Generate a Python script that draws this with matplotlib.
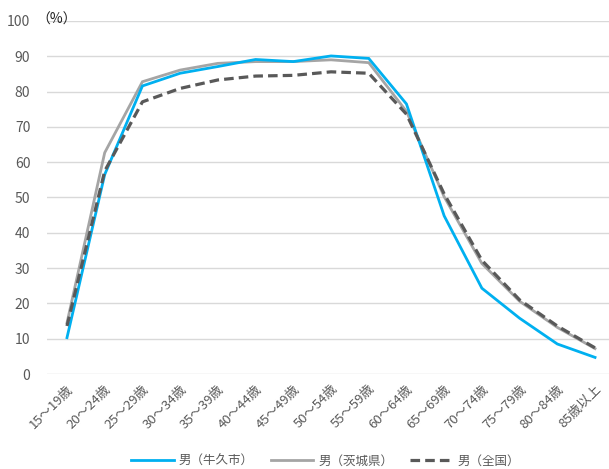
import matplotlib
matplotlib.use("Agg")
import matplotlib.pyplot as plt

plt.rcParams['font.family'] = ['Noto Sans CJK JP', 'DejaVu Sans']

age_groups = ["15～19歳", "20～24歳", "25～29歳", "30～34歳", "35～39歳",
              "40～44歳", "45～49歳", "50～54歳", "55～59歳", "60～64歳",
              "65～69歳", "70～74歳", "75～79歳", "80～84歳", "85歳以上"]

ushiku = [10.3, 56.5, 81.6, 85.2, 87.1, 89.1, 88.5, 90.1, 89.4, 76.5,
          44.8, 24.3, 15.8, 8.5, 4.7]
ibaraki = [14.5, 62.7, 82.8, 86.1, 88.0, 88.5, 88.5, 89.0, 88.2, 74.4,
           50.2, 31.3, 20.6, 13.2, 7.2]
national = [13.6, 57.5, 77.1, 80.9, 83.3, 84.4, 84.6, 85.6, 85.2, 73.6,
            51.0, 32.2, 21.0, 13.6, 7.4]

series_labels = ["男（牛久市）", "男（茨城県）", "男（全国）"]
y_ticks = list(range(0, 101, 10))

fig = plt.figure(figsize=(6.09, 4.69), dpi=100)
ax = fig.add_axes([47 / 609, 1 - 374 / 469, 562 / 609, 353 / 469])

x = list(range(len(age_groups)))
ax.plot(x, ushiku, color="#00B0F0", lw=2.0, solid_joinstyle="miter", label=series_labels[0], zorder=3)
ax.plot(x, ibaraki, color="#A5A5A5", lw=2.0, solid_joinstyle="miter", label=series_labels[1], zorder=2)
ax.plot(x, national, color="#595959", lw=2.3, ls=(0, (3, 1.6)), label=series_labels[2], zorder=4)

ax.set_xlim(-0.53, 14.37)
ax.set_ylim(0, 100)
ax.set_yticks(y_ticks)
ax.set_xticks(x)
ax.set_xticklabels(age_groups, rotation=45, ha="right", rotation_mode="anchor",
                   fontsize=9.5, color="#595959")
ax.tick_params(axis="y", labelsize=10, labelcolor="#595959", length=0, pad=12)
ax.tick_params(axis="x", length=0, pad=6)
ax.yaxis.grid(True, color="#D9D9D9", lw=1)
ax.set_axisbelow(True)
for s in ax.spines.values():
    s.set_visible(False)

fig.text(36 / 609, 1 - 20 / 469, "（%）", fontsize=10, color="#222222", va="center", ha="left")

fig.legend(loc="center", bbox_to_anchor=(0.535, 1 - 461 / 469), ncol=3, frameon=False,
           fontsize=9, labelcolor="#595959", handlelength=3.4, columnspacing=1.35,
           handletextpad=0.4)

fig.savefig("out.png", dpi=100)
